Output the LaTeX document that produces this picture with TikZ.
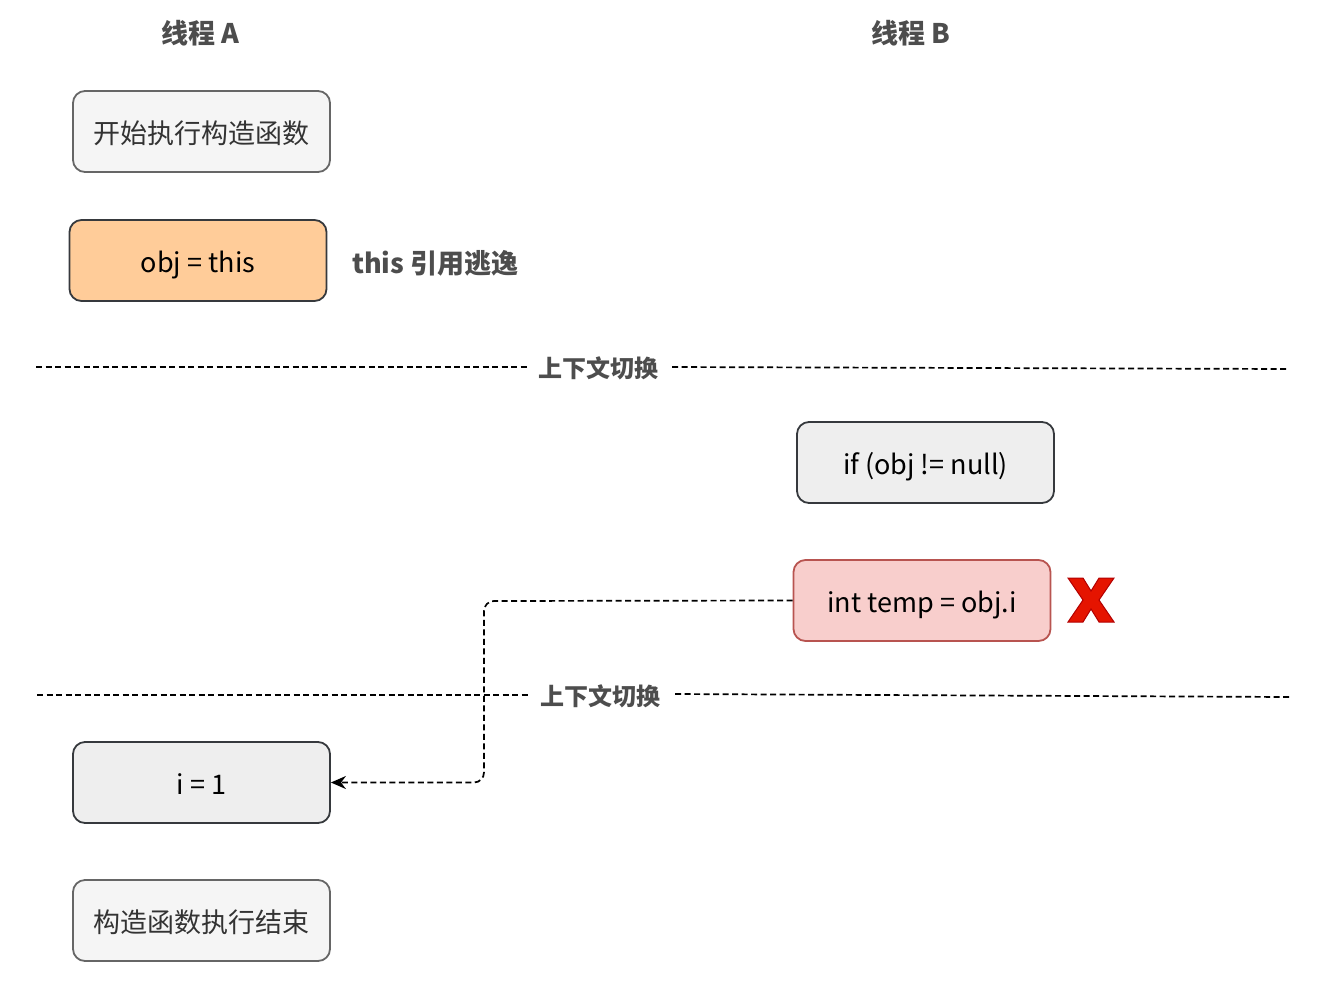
\documentclass[tikz,border=0pt]{standalone}
\usepackage{fontspec}
\setmainfont{Noto Sans CJK SC}
\usetikzlibrary{arrows.meta}
\definecolor{graytxt}{HTML}{4D4D4D}
\definecolor{boxtxt}{HTML}{333333}
\definecolor{lightfill}{HTML}{F5F5F5}
\definecolor{lightstroke}{HTML}{666666}
\definecolor{grayfill}{HTML}{EEEEEE}
\definecolor{darkstroke}{HTML}{36393D}
\definecolor{orangefill}{HTML}{FFCC99}
\definecolor{redfill}{HTML}{F8CECC}
\definecolor{redstroke}{HTML}{B85450}
\definecolor{xfill}{HTML}{E51400}
\definecolor{xstroke}{HTML}{B20000}
\tikzset{
  box/.style={draw, rounded corners=12pt, line width=1.8pt, minimum width=257pt, minimum height=81pt, inner sep=0pt, text height=1.3em, text depth=0pt, font=\fontsize{27}{32}\selectfont,
    execute at begin node={\lower5pt\hbox\bgroup}, execute at end node={\egroup}},
  lightbox/.style={box, fill=lightfill, draw=lightstroke, text=boxtxt},
  graybox/.style={box, fill=grayfill, draw=darkstroke, text=black},
  orangebox/.style={box, fill=orangefill, draw=darkstroke, text=black},
  redbox/.style={box, fill=redfill, draw=redstroke, text=black},
  title/.style={font=\fontsize{27}{32}\selectfont\bfseries, text=graytxt, inner sep=0pt},
  switchlbl/.style={font=\fontsize{24}{29}\selectfont\bfseries, text=graytxt, inner sep=0pt},
  sep/.style={dash pattern=on 6pt off 3.5pt, line width=1.7pt, black},
  flow/.style={dash pattern=on 6pt off 3.5pt, line width=1.7pt, black, rounded corners=10pt, -{Stealth[length=15pt,width=13pt]}}
}
\begin{document}
\begin{tikzpicture}[x=1pt,y=-1pt]
\useasboundingbox (0,0) rectangle (1337,985);
\node[title] (ta) at (200,33) {线程\hspace{6pt}\itshape A};
\node[title] (tb) at (911,33) {线程\hspace{6pt}B};
\node[lightbox] (start) at (201.5,131.5) {开始执行构造函数};
\node[orangebox] (objthis) at (198,260.5) {obj = this};
\node[title, anchor=west] (escape) at (352,263) {this\hspace{6pt}引用逃逸};
\node[switchlbl] (sw1) at (598,368) {上下文切换};
\coordinate (l1a) at (36,367);
\coordinate (l1b) at (1287,369);
\draw[sep] (l1a) -- (528,367);
\draw[sep] (672,367) -- (l1b);
\node[graybox] (ifnull) at (925.5,462.5) {if (obj != null)};
\node[redbox] (temp) at (922,600.5) {int temp = obj.i};
\filldraw[fill=xfill, draw=xstroke, line width=1pt]
  (1068,578) -- (1083,578) -- (1091,591) -- (1099,578) -- (1114,578)
  -- (1099,600) -- (1114,622) -- (1099,622) -- (1091,609) -- (1083,622)
  -- (1068,622) -- (1083,600) -- cycle;
\node[switchlbl] (sw2) at (600,696) {上下文切换};
\coordinate (l2a) at (37,695);
\coordinate (l2b) at (1289,697);
\draw[sep] (l2a) -- (528,695);
\draw[sep] (675,694) -- (l2b);
\node[graybox] (ione) at (201.5,782.5) {i = 1};
\node[lightbox] (endc) at (201.5,920.5) {构造函数执行结束};
\coordinate (bend) at (484,601);
\draw[flow] (temp.west) -- (bend) -- (bend |- ione.east) -- (ione.east);
\end{tikzpicture}
\end{document}
